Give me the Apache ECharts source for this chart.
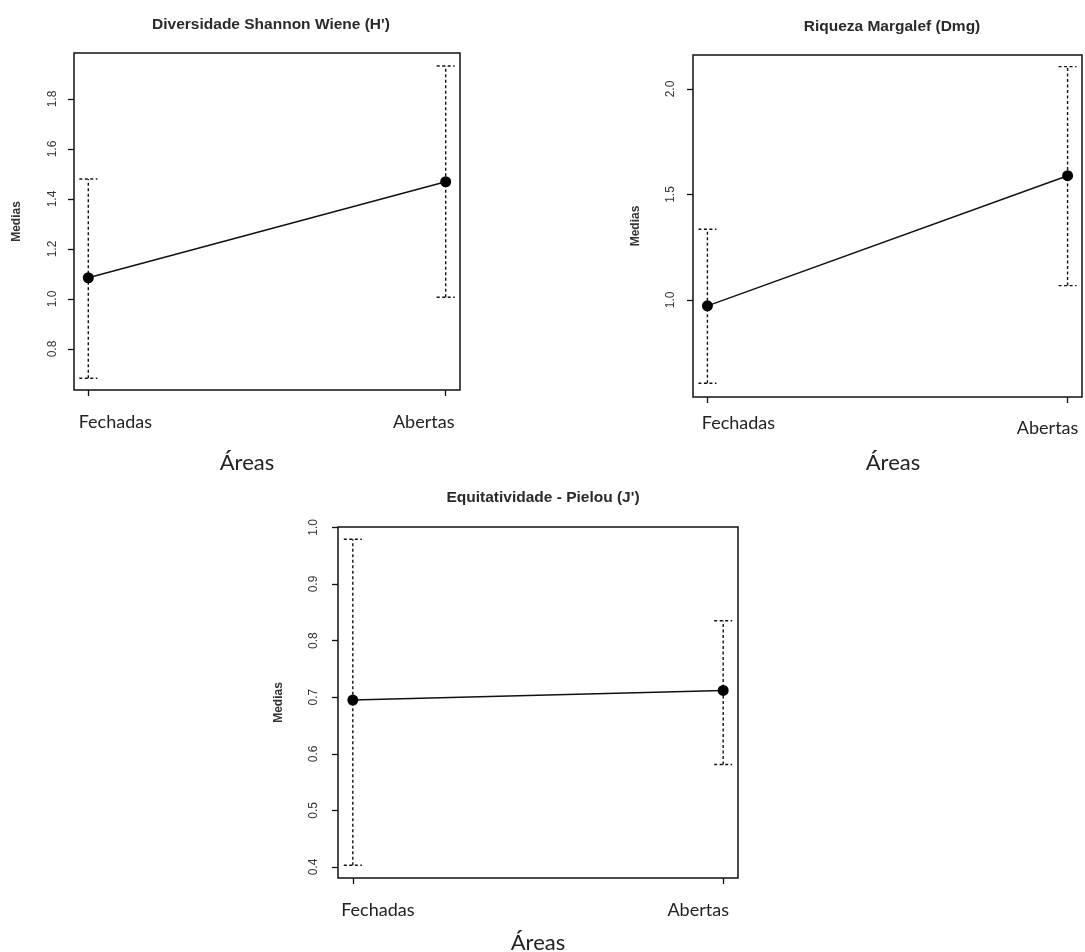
<!DOCTYPE html>
<html>
<head>
<meta charset="utf-8">
<script src="https://cdn.jsdelivr.net/npm/echarts@6/dist/echarts.min.js"></script>
<style>
html,body{margin:0;padding:0;background:#fff;}
#chart{width:1085px;height:952px;}
</style>
</head>
<body>
<div id="chart"></div>
<script>
// ---- data ----
const categories = ['Fechadas', 'Abertas'];
const categoryPos = [1, 2];

const titles = ["Diversidade Shannon Wiene (H')", "Riqueza Margalef (Dmg)", "Equitatividade - Pielou (J')"];
const yAxisTitle = 'Medias';
const xAxisTitle = 'Áreas';

const shannonMean  = [1.085, 1.469];
const shannonLower = [0.683, 1.007];
const shannonUpper = [1.480, 1.932];
const shannonTicks = [0.8, 1.0, 1.2, 1.4, 1.6, 1.8];
const shannonRange = [0.636, 1.984];

const margalefMean  = [0.972, 1.589];
const margalefLower = [0.605, 1.068];
const margalefUpper = [1.335, 2.106];
const margalefTicks = [1.0, 1.5, 2.0];
const margalefRange = [0.540, 2.161];

const pielouMean  = [0.695, 0.712];
const pielouLower = [0.403, 0.581];
const pielouUpper = [0.979, 0.835];
const pielouTicks = [0.4, 0.5, 0.6, 0.7, 0.8, 0.9, 1.0];
const pielouRange = [0.3806, 1.0007];

const xRange = [0.96, 2.04];

// ---- layout ----
const grids = [
  {left: 74,  top: 53,  width: 386, height: 337},
  {left: 693, top: 55,  width: 389, height: 342},
  {left: 338, top: 527, width: 400, height: 351}
];
const panels = [
  {mean: shannonMean, lower: shannonLower, upper: shannonUpper, ticks: shannonTicks, range: shannonRange,
   titlePos: [266, 12], namePad: [0, 40, 0, 0], nameGap: 62, labelMargin: 23,
   labPad: [[0,0,0,54],[0,44,0,0]], yLabMargin: 15, yNameGap: 51},
  {mean: margalefMean, lower: margalefLower, upper: margalefUpper, ticks: margalefTicks, range: margalefRange,
   titlePos: [887, 14], namePad: [0, 0, 0, 11], nameGap: 55, labelMargin: 17,
   labPad: [[0,0,0,62],[5,40,0,0]], yLabMargin: 16, yNameGap: 51},
  {mean: pielouMean, lower: pielouLower, upper: pielouUpper, ticks: pielouTicks, range: pielouRange,
   titlePos: [538, 485], namePad: [0, 0, 0, 0], nameGap: 54, labelMargin: 23,
   labPad: [[0,0,0,50],[0,50,0,0]], yLabMargin: 18, yNameGap: 53}
];

const ink = '#111';
const option = {
  animation: false,
  backgroundColor: '#fff',
  title: panels.map((p, i) => ({
    text: titles[i],
    left: p.titlePos[0], top: p.titlePos[1], textAlign: 'center',
    textStyle: {fontFamily: 'Liberation Sans', fontSize: 15.5, fontWeight: 'bold', color: '#2a2a2a'}
  })),
  grid: grids.map(g => Object.assign({show: true, borderColor: ink, borderWidth: 1.5, backgroundColor: '#fff',
                                      containLabel: false, outerBoundsMode: 'none'}, g)),
  xAxis: panels.map((p, i) => ({
    type: 'value', gridIndex: i, min: xRange[0], max: xRange[1],
    splitLine: {show: false},
    axisLine: {show: false},
    axisTick: {show: true, length: 6, customValues: categoryPos, lineStyle: {color: ink, width: 1.3}},
    axisLabel: {
      show: true, customValues: categoryPos, margin: p.labelMargin,
      fontFamily: 'Lato', fontSize: 18, color: '#222',
      formatter: v => {
        const k = Math.round(v) - 1;
        return '{c' + k + '|' + categories[k] + '}';
      },
      rich: {
        c0: {fontFamily: 'Lato', fontSize: 18, color: '#222', padding: p.labPad[0]},
        c1: {fontFamily: 'Lato', fontSize: 18, color: '#222', padding: p.labPad[1]}
      }
    },
    name: xAxisTitle, nameLocation: 'middle', nameGap: p.nameGap,
    nameTextStyle: {fontFamily: 'Lato', fontSize: 22, color: '#222', padding: p.namePad}
  })),
  yAxis: panels.map((p, i) => ({
    type: 'value', gridIndex: i, min: p.range[0], max: p.range[1],
    splitLine: {show: false},
    axisLine: {show: false},
    axisTick: {show: true, length: 6, customValues: p.ticks, lineStyle: {color: ink, width: 1.3}},
    axisLabel: {
      show: true, customValues: p.ticks, rotate: 90, margin: p.yLabMargin,
      fontFamily: 'Liberation Sans', fontSize: 12, color: '#333',
      formatter: v => v.toFixed(1)
    },
    name: yAxisTitle, nameLocation: 'middle', nameRotate: 90, nameGap: p.yNameGap,
    nameTextStyle: {fontFamily: 'Liberation Sans', fontSize: 12, fontWeight: 'bold', color: '#333'}
  })),
  series: []
};

panels.forEach((p, i) => {
  option.series.push({
    type: 'custom', xAxisIndex: i, yAxisIndex: i,
    data: categoryPos.map((x, k) => [x, p.lower[k], p.upper[k]]),
    renderItem: (params, api) => {
      const lo = api.coord([api.value(0), api.value(1)]);
      const hi = api.coord([api.value(0), api.value(2)]);
      const hw = 9;
      const st = {stroke: ink, lineWidth: 1.4, lineDash: [3, 2.5], fill: null};
      return {type: 'group', children: [
        {type: 'line', shape: {x1: lo[0], y1: lo[1], x2: hi[0], y2: hi[1]}, style: st},
        {type: 'line', shape: {x1: lo[0]-hw, y1: lo[1], x2: lo[0]+hw, y2: lo[1]}, style: st},
        {type: 'line', shape: {x1: hi[0]-hw, y1: hi[1], x2: hi[0]+hw, y2: hi[1]}, style: st}
      ]};
    },
    z: 2
  });
  option.series.push({
    type: 'line', xAxisIndex: i, yAxisIndex: i,
    data: categoryPos.map((x, k) => [x, p.mean[k]]),
    symbol: 'circle', symbolSize: 11,
    itemStyle: {color: '#000'},
    lineStyle: {color: ink, width: 1.5},
    z: 3
  });
});

const chart = echarts.init(document.getElementById('chart'), null, {renderer: 'canvas'});
chart.setOption(option);
</script>
</body>
</html>
